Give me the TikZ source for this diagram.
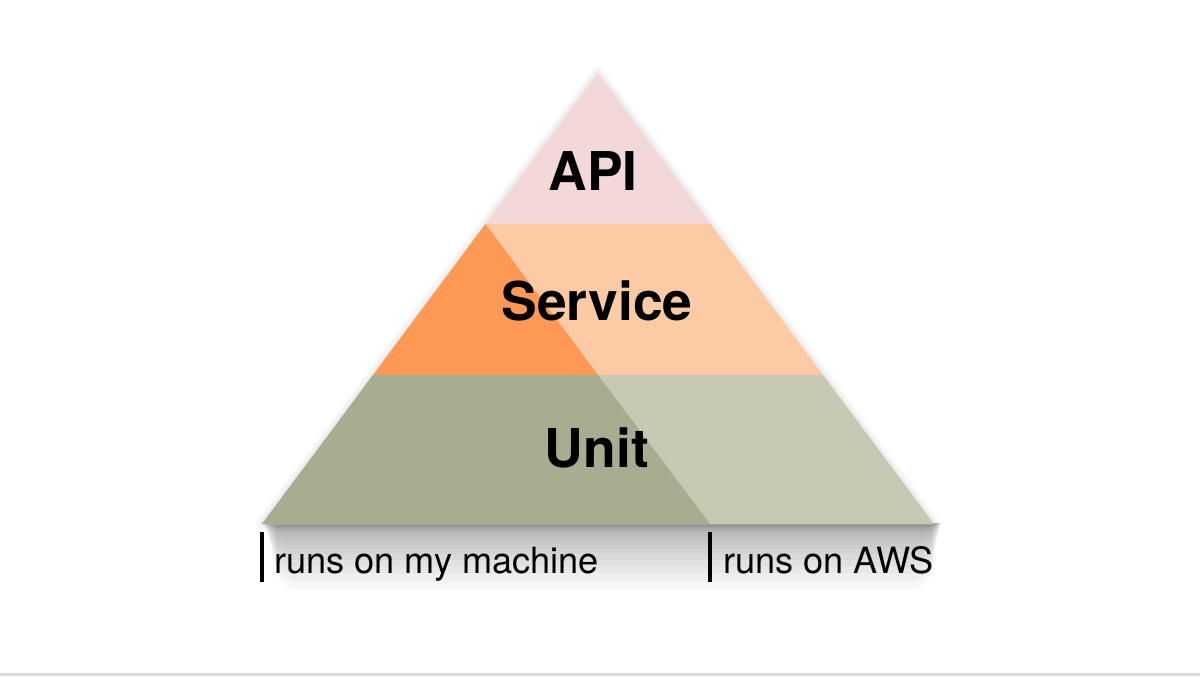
\documentclass[tikz,border=0pt]{standalone}
\usepackage{fontspec}
\setmainfont{TeX Gyre Heros}
\usetikzlibrary{calc}
\definecolor{apipink}{HTML}{F2D8D6}
\definecolor{servlight}{HTML}{FCCBA6}
\definecolor{servdark}{HTML}{FD9855}
\definecolor{unitlight}{HTML}{C6CAB4}
\definecolor{unitdark}{HTML}{A8AC90}
\tikzset{layer/.style={font=\fontsize{38}{40}\selectfont\bfseries, anchor=base, inner sep=0pt},
  where/.style={font=\fontsize{25.7}{28}\selectfont, anchor=base west, inner sep=0pt},
  tick/.style={line width=2.2pt, black}}

\begin{document}
\begin{tikzpicture}[x=0.025cm, y=-0.025cm]
\useasboundingbox (0,0) rectangle (1200,676);
\coordinate (top) at (598,73);
\coordinate (bl) at (262,524);
\coordinate (br) at (934,524);
\coordinate (l1) at (485.5,224);
\coordinate (r1) at (710.5,224);
\coordinate (l2) at (373,375);
\coordinate (r2) at (823,375);
\coordinate (m2) at (598,375);
\coordinate (m3) at (710,524);

% soft shadow round the pyramid and under its base
\foreach \w in {3,6,9}
  \draw[black, opacity=0.025, line width=\w pt, line join=round] (top) -- (bl) -- (br) -- cycle;
\begin{scope}
  \clip (0,523) rectangle (1200,676);
  \foreach \i in {1,...,15}
    \fill[black, opacity=0.03, rounded corners=16pt] (252+1.6*\i,490) rectangle (950-1.2*\i,{526+0.28*\i*\i});
\end{scope}

% pyramid
\fill[apipink] (top) -- (bl) -- (br) -- cycle;
\fill[servlight] (l1) -- (r1) -- (r2) -- (l2) -- cycle;
\fill[servdark] (l1) -- (m2) -- (l2) -- cycle;
\fill[unitlight] (l2) -- (r2) -- (br) -- (bl) -- cycle;
\fill[unitdark] (l2) -- (m2) -- (m3) -- (bl) -- cycle;

\node[layer] (api) at (593,190) {API};
\node[layer] (service) at (597,320) {Service};
\node[layer] (unit) at (597,467) {Unit};

\draw[tick] (262,532) -- (262,582);
\node[where] (local) at (274,573) {runs on my machine};
\draw[tick] (710,532) -- (710,582);
\node[where] (aws) at (723,573) {runs on AWS};

\fill[black!15] (0,673) rectangle (1200,676);
\end{tikzpicture}
\end{document}
